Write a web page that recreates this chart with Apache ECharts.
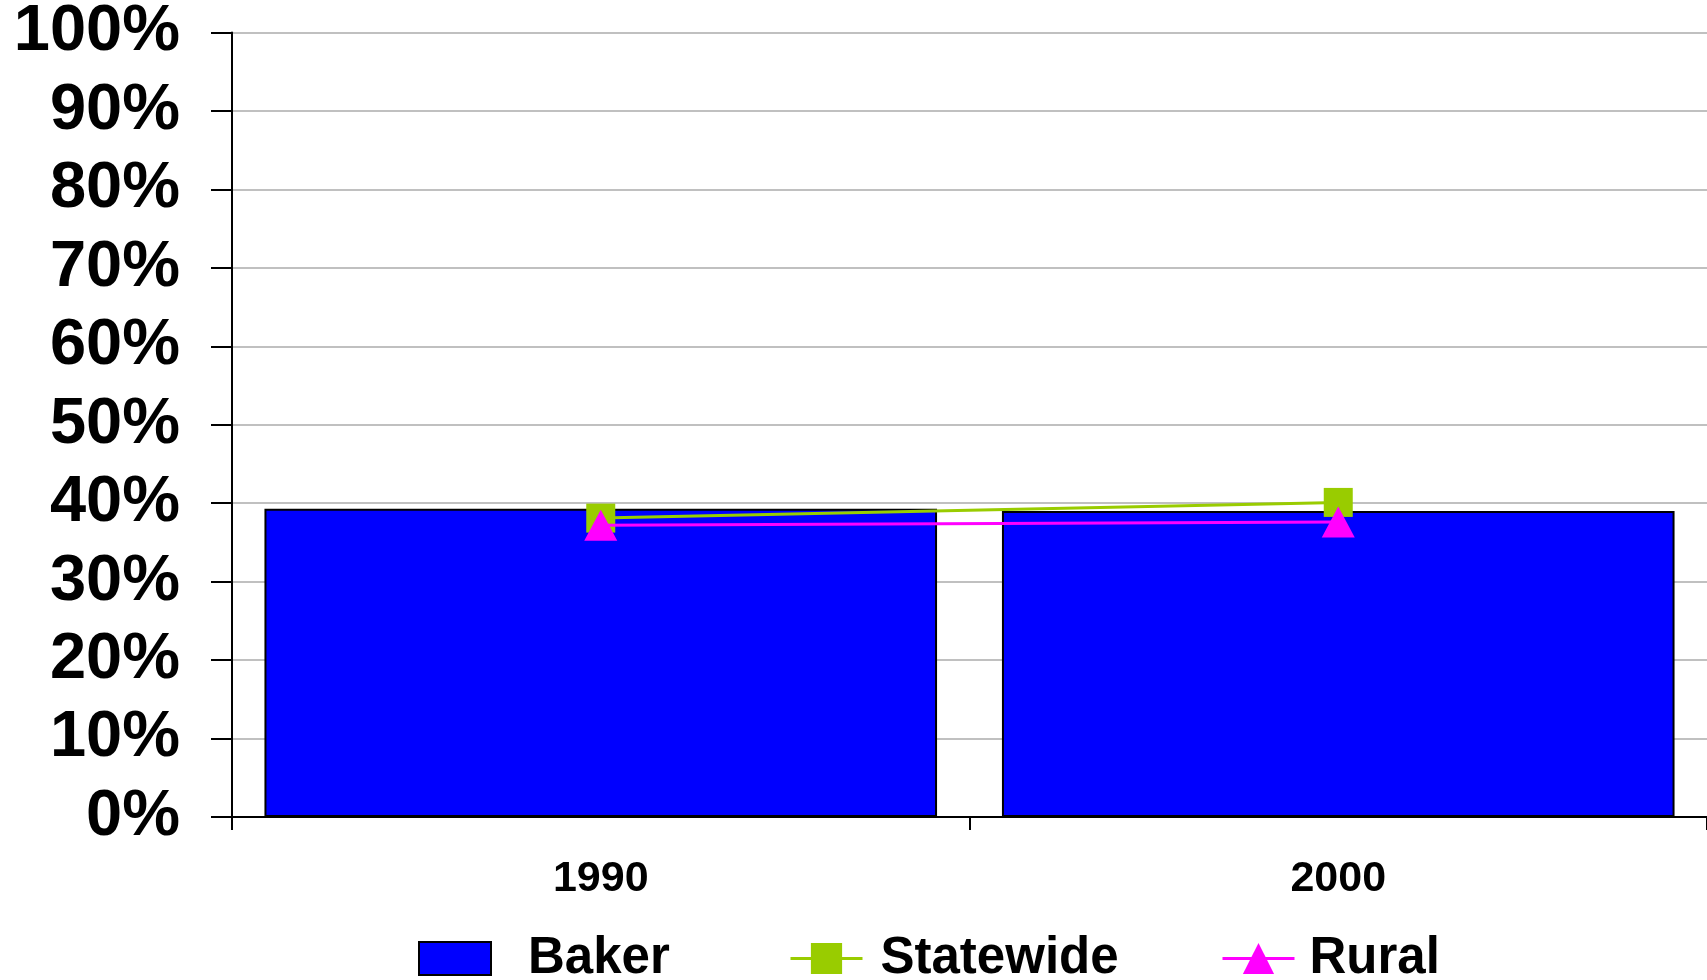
<!DOCTYPE html>
<html>
<head>
<meta charset="utf-8">
<script src="https://cdn.jsdelivr.net/npm/echarts@6/dist/echarts.min.js"></script>
<style>
html,body{margin:0;padding:0;background:#fff;}
#chart{width:1707px;height:980px;}
</style>
</head>
<body>
<div id="chart"></div>
<script>
const categories = ['1990', '2000'];
const bakerValues = [39.3, 39.0];
const statewideValues = [38.1, 40.1];
const ruralValues = [37.2, 37.6];
const yTicks = [0, 10, 20, 30, 40, 50, 60, 70, 80, 90, 100];

const FONT = '"Liberation Sans", Arial, sans-serif';
const chart = echarts.init(document.getElementById('chart'));

function legendAt(item, left, pad, itemH) {
  return {
    data: [item],
    left: left,
    top: 958 - 25,
    itemWidth: 72,
    itemHeight: itemH,
    itemGap: 0,
    padding: 0,
    selectedMode: false,
    lineStyle: { width: 3 },
    textStyle: {
      fontFamily: FONT, fontWeight: 'bold', fontSize: 51, lineHeight: 50, color: '#000',
      padding: [0, 0, 0, pad]
    }
  };
}

chart.setOption({
  animation: false,
  backgroundColor: '#fff',
  grid: { left: 232, right: 0, top: 32, bottom: 163, containLabel: false },
  legend: [
    legendAt({ name: 'Baker', icon: 'rect', itemStyle: { borderColor: '#000', borderWidth: 2 } }, 418, 32, 33),
    legendAt({ name: 'Statewide' }, 789, 13, 39),
    legendAt({ name: 'Rural' }, 1221, 10, 39)
  ],
  xAxis: {
    type: 'category',
    data: categories,
    axisLine: { show: true, lineStyle: { color: '#000', width: 2 } },
    axisTick: { show: true, alignWithLabel: false, length: 13, lineStyle: { color: '#000', width: 2 } },
    axisLabel: { margin: 41, fontFamily: FONT, fontWeight: 'bold', fontSize: 43, color: '#000' },
    splitLine: { show: false }
  },
  yAxis: {
    type: 'value',
    min: 0, max: 100, interval: 10,
    axisLine: { show: true, lineStyle: { color: '#000', width: 2 } },
    axisTick: { show: true, length: 21, lineStyle: { color: '#000', width: 2 } },
    axisLabel: {
      margin: 52, fontFamily: FONT, fontWeight: 'bold', fontSize: 65, color: '#000',
      padding: [6, 0, 0, 0],
      formatter: function (v) { return yTicks.indexOf(v) >= 0 ? v + '%' : ''; }
    },
    splitLine: { show: true, lineStyle: { color: '#c0c0c0', width: 2 } }
  },
  series: [
    {
      name: 'Baker', type: 'bar', data: bakerValues,
      barCategoryGap: '8.8%',
      itemStyle: { color: '#0000ff', borderColor: '#000', borderWidth: 2 },
      z: 2
    },
    {
      name: 'Statewide', type: 'line', data: statewideValues,
      symbol: 'rect', symbolSize: 29,
      lineStyle: { color: '#99cc00', width: 3 },
      itemStyle: { color: '#99cc00' },
      z: 3
    },
    {
      name: 'Rural', type: 'line', data: ruralValues,
      symbol: 'triangle', symbolSize: [33, 31],
      lineStyle: { color: '#ff00ff', width: 3 },
      itemStyle: { color: '#ff00ff' },
      z: 4
    }
  ]
});
</script>
</body>
</html>
